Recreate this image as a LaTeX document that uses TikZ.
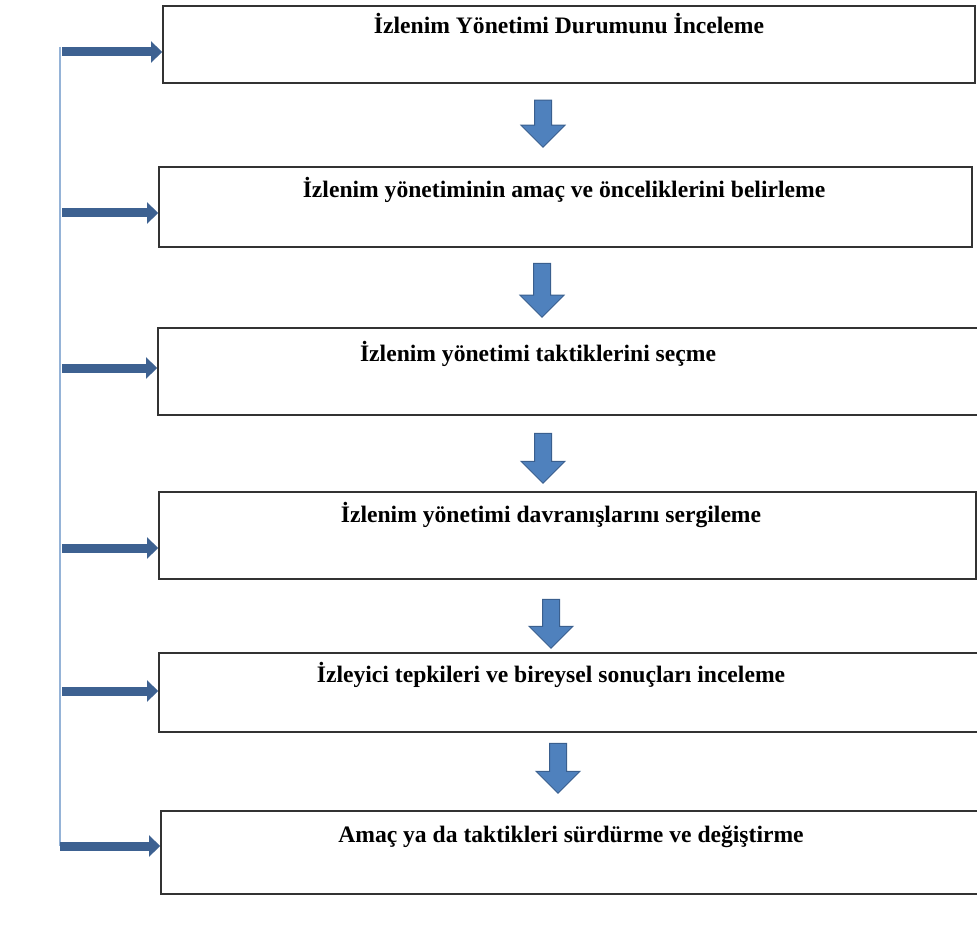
\documentclass[tikz,border=0pt]{standalone}
\usepackage{fontspec}
\setmainfont{Liberation Serif}
\usetikzlibrary{arrows.meta,shapes.arrows}
\definecolor{arrowfill}{HTML}{4F81BD}
\definecolor{arrowline}{HTML}{3A5F8E}
\definecolor{feedblue}{HTML}{3D6191}
\definecolor{spineblue}{HTML}{95B3D7}

\begin{document}
\begin{tikzpicture}[x=1pt,y=-1pt,
  stage/.style={draw=black!80,line width=1.8pt,rectangle,inner sep=0pt},
  stagetext/.style={font=\bfseries\fontsize{23.6}{26}\selectfont,anchor=base,inner sep=0pt},
  down/.style={single arrow,draw=arrowline,line width=1pt,fill=arrowfill,
    rotate=-90,inner xsep=0pt,inner ysep=8pt,single arrow head extend=13.5pt},
  feed/.style={draw=feedblue,line width=9pt,-{Triangle[length=11pt,width=21pt]}}]
  \useasboundingbox (0,0) rectangle (977,936);
  % stages
  \node[stage,minimum width=812pt,minimum height=77pt] (b1) at (569,44.5) {};
  \node[stage,minimum width=813pt,minimum height=80pt] (b2) at (565.5,207) {};
  \node[stage,minimum width=827pt,minimum height=87pt] (b3) at (571.5,371.5) {};
  \node[stage,minimum width=817pt,minimum height=87pt] (b4) at (567.5,535.5) {};
  \node[stage,minimum width=826pt,minimum height=79pt] (b5) at (572,692.5) {};
  \node[stage,minimum width=824pt,minimum height=83pt] (b6) at (573,852.5) {};
  \node[stagetext] (t1) at (569,34) {İzlenim Yönetimi Durumunu İnceleme};
  \node[stagetext] (t2) at (564,198) {İzlenim yönetiminin amaç ve önceliklerini belirleme};
  \node[stagetext] (t3) at (538,361) {İzlenim yönetimi taktiklerini seçme};
  \node[stagetext] (t4) at (551,522) {İzlenim yönetimi davranışlarını sergileme};
  \node[stagetext] (t5) at (551,682) {İzleyici tepkileri ve bireysel sonuçları inceleme};
  \node[stagetext] (t6) at (571,842) {Amaç ya da taktikleri sürdürme ve değiştirme};
  % block arrows between stages
  \node[down,minimum height=47pt] (d1) at (543,119.5) {};
  \node[down,minimum height=54pt] (d2) at (542,286) {};
  \node[down,minimum height=50pt] (d3) at (543,454) {};
  \node[down,minimum height=49pt] (d4) at (551,619.5) {};
  \node[down,minimum height=50pt] (d5) at (558,764) {};
  % feedback spine
  \coordinate (top) at (60,47);
  \coordinate (bot) at (60,846);
  \coordinate (s1) at (62,52);
  \coordinate (s2) at (62,213);
  \coordinate (s3) at (62,368);
  \coordinate (s4) at (62,548);
  \coordinate (s5) at (62,691);
  \coordinate (s6) at (60,846);
  \draw[spineblue,line width=2.5pt] (top) -- (bot);
  \foreach \i in {1,...,6}
    \draw[feed] (s\i) -- (s\i -| b\i.west);
\end{tikzpicture}
\end{document}
